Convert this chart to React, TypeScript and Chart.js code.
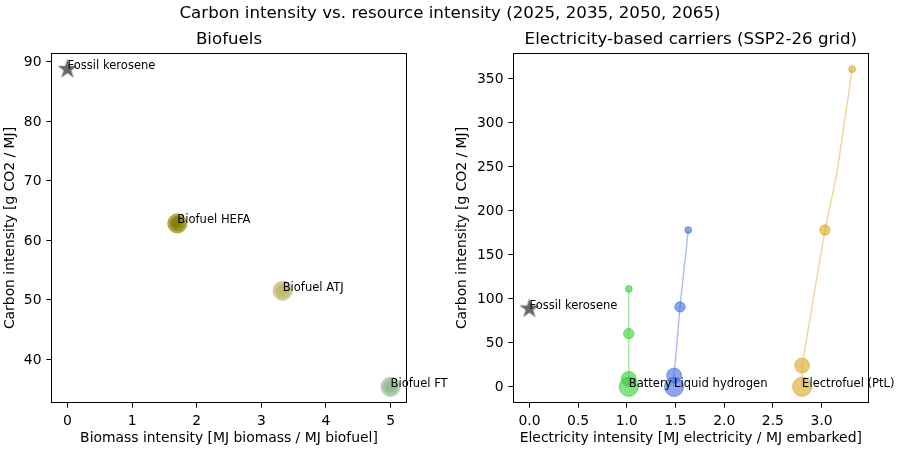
import React, { useEffect, useRef } from "react";
import { Chart, registerables } from "chart.js";

Chart.register(...registerables);

// ---------------- data ----------------
const YEARS = [2025, 2035, 2050, 2065];

const FOSSIL_LABEL = "Fossil kerosene";
const FOSSIL_X = 0;
const FOSSIL_CI = 88.7;

// Biofuels panel: biomass intensity [MJ biomass / MJ biofuel] vs carbon intensity [g CO2 / MJ]
const BIO_LABELS = ["Biofuel HEFA", "Biofuel ATJ", "Biofuel FT"];
const HEFA_BIOMASS = [1.69, 1.69, 1.7, 1.7];
const HEFA_CI = [62.9, 62.9, 62.8, 62.8];
const ATJ_BIOMASS = [3.33, 3.33, 3.33, 3.33];
const ATJ_CI = [51.6, 51.6, 51.5, 51.5];
const FT_BIOMASS = [5.0, 5.0, 5.0, 5.0];
const FT_CI = [35.4, 35.4, 35.38, 35.38];

// Electricity-based panel: electricity intensity [MJ el / MJ embarked] vs carbon intensity
const ELEC_LABELS = ["Battery", "Liquid hydrogen", "Electrofuel (PtL)"];
const BATTERY_ELEC = [1.02, 1.02, 1.02, 1.02];
const BATTERY_CI = [111.1, 60.4, 9.1, 0];
const LH2_ELEC = [1.631, 1.546, 1.485, 1.485];
const LH2_CI = [178, 90.7, 12.8, 0];
const PTL_ELEC = [3.314, 3.034, 2.8, 2.8];
const PTL_CI = [360.6, 178, 24.2, 0];
// trajectory traced by the PtL line (passes through an intermediate bend)
const PTL_PATH_ELEC = [3.314, 3.157, 3.034, 2.8, 2.8];
const PTL_PATH_CI = [360.6, 242, 178, 24.2, 0];

const BIO_X_TICKS = [0, 1, 2, 3, 4, 5];
const BIO_Y_TICKS = [40, 50, 60, 70, 80, 90];
const ELEC_X_TICKS = [0, 0.5, 1.0, 1.5, 2.0, 2.5, 3.0];
const ELEC_Y_TICKS = [0, 50, 100, 150, 200, 250, 300, 350];

const SUPTITLE = "Carbon intensity vs. resource intensity (2025, 2035, 2050, 2065)";
const BIO_TITLE = "Biofuels";
const ELEC_TITLE = "Electricity-based carriers (SSP2-26 grid)";
const BIO_XLABEL = "Biomass intensity [MJ biomass / MJ biofuel]";
const ELEC_XLABEL = "Electricity intensity [MJ electricity / MJ embarked]";
const YLABEL = "Carbon intensity [g CO2 / MJ]";

// ---------------- styles ----------------
const FONT = '"DejaVu Sans", sans-serif';
const MARKER_RADII = [3.4, 5.2, 7.4, 9.6];
const TICK_LEN = 4.9;

const rgba = (c: number[], a: number) => `rgba(${c[0]},${c[1]},${c[2]},${a})`;
const OLIVE = [128, 128, 0];
const KHAKI = [189, 183, 107];
const SEAGREEN = [143, 188, 143];
const LIME = [50, 205, 50];
const ROYAL = [65, 105, 225];
const GOLD = [218, 165, 32];

const pts = (xs: number[], ys: number[]) => xs.map((x, i) => ({ x, y: ys[i] }));

function padRange(vals: number[]) {
  const mn = Math.min(...vals);
  const mx = Math.max(...vals);
  const m = (mx - mn) * 0.05;
  return [mn - m, mx + m];
}

function makeStar() {
  const c = document.createElement("canvas");
  const R = 10.5;
  const size = 24;
  c.width = size;
  c.height = size;
  const g = c.getContext("2d")!;
  g.fillStyle = "rgb(105,105,105)";
  g.beginPath();
  for (let i = 0; i < 10; i++) {
    const r = i % 2 === 0 ? R : R * 0.381966;
    const a = -Math.PI / 2 + (i * Math.PI) / 5;
    const x = size / 2 + r * Math.cos(a);
    const y = size / 2 + r * Math.sin(a);
    if (i === 0) g.moveTo(x, y);
    else g.lineTo(x, y);
  }
  g.closePath();
  g.fill();
  return c;
}

type Lbl = { text: string; x: number; y: number };

function makeDecor(title: string, labels: Lbl[], suptitle?: string) {
  return {
    id: "decor",
    afterDatasetsDraw(chart: any) {
      const { ctx, chartArea: a, scales } = chart;
      ctx.save();
      // point annotations
      ctx.font = `11.57px ${FONT}`;
      ctx.fillStyle = "#000";
      ctx.textAlign = "left";
      ctx.textBaseline = "alphabetic";
      labels.forEach((l) => {
        ctx.fillText(l.text, scales.x.getPixelForValue(l.x), scales.y.getPixelForValue(l.y));
      });
      // frame
      ctx.strokeStyle = "#000";
      ctx.lineWidth = 1;
      const L = Math.floor(a.left) + 0.5;
      const T = Math.floor(a.top) + 0.5;
      const R = Math.floor(a.right) + 0.5;
      const B = Math.floor(a.bottom) + 0.5;
      ctx.strokeRect(L, T, R - L, B - T);
      // titles
      ctx.font = `16.67px ${FONT}`;
      ctx.textAlign = "center";
      ctx.fillText(title, (a.left + a.right) / 2, 44.3);
      if (suptitle) ctx.fillText(suptitle, 450, 18.3);
      ctx.restore();
    },
  };
}

function axis(
  pos: "bottom" | "left",
  range: number[],
  ticks: number[],
  fmt: (v: number) => string,
  title: string,
  fitSize: number,
  titlePad: number
) {
  return {
    type: "linear",
    position: pos,
    min: range[0],
    max: range[1],
    afterBuildTicks: (s: any) => {
      s.ticks = ticks.map((v) => ({ value: v }));
    },
    afterFit: (s: any) => {
      if (pos === "bottom") s.height = fitSize;
      else s.width = fitSize;
    },
    border: { display: false },
    grid: {
      display: true,
      drawOnChartArea: false,
      drawTicks: true,
      tickLength: TICK_LEN,
      tickColor: "#000",
      tickWidth: 1,
    },
    ticks: {
      color: "#000",
      font: { family: FONT, size: 13.9 },
      padding: pos === "bottom" ? 5 : 4.9,
      labelOffset: pos === "bottom" ? 0 : 1,
      maxRotation: 0,
      autoSkip: false,
      callback: (v: any) => fmt(Number(v)),
    },
    title: {
      display: true,
      text: title,
      color: "#000",
      font: { family: FONT, size: 13.9 },
      padding: pos === "bottom" ? { top: 0, bottom: titlePad } : { top: titlePad, bottom: 0 },
    },
  };
}

function scatterSet(xs: number[], ys: number[], col: number[], order: number) {
  return {
    data: pts(xs, ys),
    pointRadius: MARKER_RADII,
    pointBackgroundColor: rgba(col, 0.6),
    pointBorderColor: rgba(col, 0.6),
    pointBorderWidth: 1,
    showLine: false,
    order,
  };
}

function lineSet(xs: number[], ys: number[], col: number[]) {
  return {
    data: pts(xs, ys),
    showLine: true,
    borderColor: rgba(col, 0.45),
    borderWidth: 1.4,
    pointRadius: 0,
    fill: false,
    order: 50,
  };
}

export default function App() {
  const leftRef = useRef<HTMLCanvasElement>(null);
  const rightRef = useRef<HTMLCanvasElement>(null);

  useEffect(() => {
    const star = makeStar();
    const starSet = {
      data: [{ x: FOSSIL_X, y: FOSSIL_CI }],
      pointStyle: star,
      pointRadius: 10,
      showLine: false,
      order: 1,
    };

    const bioX = padRange([FOSSIL_X, ...HEFA_BIOMASS, ...ATJ_BIOMASS, ...FT_BIOMASS]);
    const bioY = padRange([FOSSIL_CI, ...HEFA_CI, ...ATJ_CI, ...FT_CI]);
    const elX = padRange([FOSSIL_X, ...BATTERY_ELEC, ...LH2_ELEC, ...PTL_ELEC]);
    const elY = padRange([FOSSIL_CI, ...BATTERY_CI, ...LH2_CI, ...PTL_CI]);

    const last = YEARS.length - 1;
    const bioLabels: Lbl[] = [
      { text: FOSSIL_LABEL, x: FOSSIL_X, y: FOSSIL_CI },
      { text: BIO_LABELS[0], x: HEFA_BIOMASS[last], y: HEFA_CI[last] },
      { text: BIO_LABELS[1], x: ATJ_BIOMASS[last], y: ATJ_CI[last] },
      { text: BIO_LABELS[2], x: FT_BIOMASS[last], y: FT_CI[last] },
    ];
    const elLabels: Lbl[] = [
      { text: FOSSIL_LABEL, x: FOSSIL_X, y: FOSSIL_CI },
      { text: ELEC_LABELS[0], x: BATTERY_ELEC[last], y: BATTERY_CI[last] },
      { text: ELEC_LABELS[1], x: LH2_ELEC[last], y: LH2_CI[last] },
      { text: ELEC_LABELS[2], x: PTL_ELEC[last], y: PTL_CI[last] },
    ];

    const common = {
      responsive: false,
      devicePixelRatio: 1,
      animation: false as const,
      events: [] as any[],
      plugins: { legend: { display: false }, tooltip: { enabled: false }, title: { display: false } },
    };

    const left = new Chart(leftRef.current!, {
      type: "scatter",
      data: {
        datasets: [
          starSet,
          scatterSet(HEFA_BIOMASS, HEFA_CI, OLIVE, 4),
          scatterSet(ATJ_BIOMASS, ATJ_CI, KHAKI, 3),
          scatterSet(FT_BIOMASS, FT_CI, SEAGREEN, 2),
        ] as any,
      },
      options: {
        ...common,
        layout: { padding: { left: 0, right: 900 - 406.7, top: 53.3, bottom: 0 } },
        scales: {
          x: axis("bottom", bioX, BIO_X_TICKS, (v) => String(v), BIO_XLABEL, 47.3, 2.8),
          y: axis("left", bioY, BIO_Y_TICKS, (v) => String(v), YLABEL, 51.3, 2.2),
        } as any,
      },
      plugins: [makeDecor(BIO_TITLE, bioLabels, SUPTITLE)],
    } as any);

    const right = new Chart(rightRef.current!, {
      type: "scatter",
      data: {
        datasets: [
          lineSet(BATTERY_ELEC, BATTERY_CI, LIME),
          lineSet(LH2_ELEC, LH2_CI, ROYAL),
          lineSet(PTL_PATH_ELEC, PTL_PATH_CI, GOLD),
          starSet,
          scatterSet(BATTERY_ELEC, BATTERY_CI, LIME, 4),
          scatterSet(LH2_ELEC, LH2_CI, ROYAL, 3),
          scatterSet(PTL_ELEC, PTL_CI, GOLD, 2),
        ] as any,
      },
      options: {
        ...common,
        layout: { padding: { left: 450, right: 900 - 868.3, top: 53.3, bottom: 0 } },
        scales: {
          x: axis("bottom", elX, ELEC_X_TICKS, (v) => v.toFixed(1), ELEC_XLABEL, 47.3, 2.8),
          y: axis("left", elY, ELEC_Y_TICKS, (v) => String(v), YLABEL, 63.3, 4.2),
        } as any,
      },
      plugins: [makeDecor(ELEC_TITLE, elLabels)],
    } as any);

    return () => {
      left.destroy();
      right.destroy();
    };
  }, []);

  const cs: React.CSSProperties = { position: "absolute", left: 0, top: 0, width: 900, height: 450 };
  return (
    <div style={{ position: "fixed", left: 0, top: 0, width: 900, height: 450, background: "#fff" }}>
      <canvas ref={leftRef} width={900} height={450} style={cs} />
      <canvas ref={rightRef} width={900} height={450} style={cs} />
    </div>
  );
}
